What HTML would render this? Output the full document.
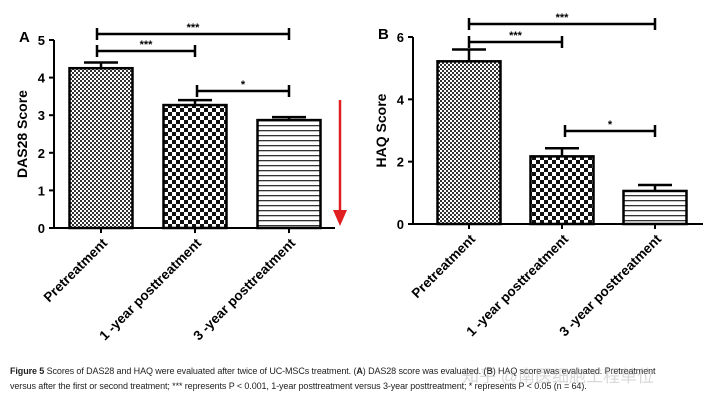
<!DOCTYPE html>
<html><head><meta charset="utf-8">
<style>
html,body{margin:0;padding:0;background:#fff;}
body{width:720px;height:403px;overflow:hidden;position:relative;font-family:"Liberation Sans",sans-serif;}
#cap{position:absolute;left:10px;top:364px;font-size:9px;line-height:15px;color:#222;width:705px;white-space:nowrap;letter-spacing:-0.1px;}
#wm{position:absolute;left:462px;top:362px;font-size:17px;color:rgba(170,170,170,0.45);font-family:"Liberation Sans","Noto Sans CJK SC",sans-serif;}
</style></head>
<body>
<svg id="chart" width="720" height="360" style="position:absolute;left:0;top:0" font-family="Liberation Sans, sans-serif">
<defs>
<pattern id="pFine" width="4" height="4" patternUnits="userSpaceOnUse"><rect width="4" height="4" fill="#fff"/><rect width="2" height="2" fill="#333"/><rect x="2" y="2" width="2" height="2" fill="#333"/></pattern>
<pattern id="pCheck" width="8" height="8" patternUnits="userSpaceOnUse"><rect width="8" height="8" fill="#fff"/><rect width="4" height="4" fill="#111"/><rect x="4" y="4" width="4" height="4" fill="#111"/></pattern>
<pattern id="pLines" width="6" height="5" patternUnits="userSpaceOnUse"><rect width="6" height="5" fill="#fff"/><rect y="0" width="6" height="1.3" fill="#333"/></pattern>
</defs>
<g id="panelA"></g>
<g id="panelB"></g>
<g>
<line x1="340" y1="100" x2="340" y2="212" stroke="#e02020" stroke-width="2.5"/>
<polygon points="333,210 347,210 340,226" fill="#e02020"/>
</g>
</svg>
<div id="cap"><b>Figure 5</b> Scores of DAS28 and HAQ were evaluated after twice of UC-MSCs treatment. (<b>A</b>) DAS28 score was evaluated. (<b>B</b>) HAQ score was evaluated. Pretreatment<br>versus after the first or second treatment; *** represents P &lt; 0.001, 1-year posttreatment versus 3-year posttreatment; * represents P &lt; 0.05 (n = 64).</div>
<div id="wm">知乎 @南医细胞工程单位</div>
<script>
const categories = ["Pretreatment","1 -year posttreatment","3 -year posttreatment"];
const dasValues = [4.25, 3.27, 2.87];
const dasErrors = [0.15, 0.13, 0.08];
const dasTicks = [0,1,2,3,4,5];
const haqValues = [5.22, 2.17, 1.06];
const haqErrors = [0.38, 0.26, 0.19];
const haqTicks = [0,2,4,6];
const fills = ["url(#pFine)","url(#pCheck)","url(#pLines)"];
const NS = "http://www.w3.org/2000/svg";
function mk(parent, tag, attrs, text){
  const e = document.createElementNS(NS, tag);
  for (const k in attrs) e.setAttribute(k, attrs[k]);
  if (text !== undefined) e.textContent = text;
  parent.appendChild(e); return e;
}
function drawPanel(g, cfg){
  const y = v => cfg.y0 - (v / cfg.max) * (cfg.y0 - cfg.yTop);
  const xc = i => cfg.x0 + cfg.first + i * cfg.step;
  const L = mk(g,"text",{x:cfg.x0-35,y:cfg.yTop+2,"font-size":15,"font-weight":"bold"},cfg.letter);
  
  
  const ya = mk(g,"line",{x1:cfg.x0,y1:cfg.yTop,x2:cfg.x0,y2:cfg.y0,stroke:"#000","stroke-width":2});
  
  
  const xa = mk(g,"line",{x1:cfg.x0,y1:cfg.y0,x2:cfg.xEnd,y2:cfg.y0,stroke:"#000","stroke-width":2});
  
  
  cfg.ticks.forEach(t=>{
    mk(g,"line",{x1:cfg.x0-5,y1:y(t),x2:cfg.x0,y2:y(t),stroke:"#000","stroke-width":2});
    const tl = mk(g,"text",{x:cfg.x0-9,y:y(t)+5,"font-size":13,"font-weight":"bold","text-anchor":"end"},t);
    
    
  });
  const mid = (cfg.y0+cfg.yTop)/2;
  const yt = mk(g,"text",{x:cfg.x0-27,y:mid,"font-size":14,"font-weight":"bold","text-anchor":"middle",transform:`rotate(-90 ${cfg.x0-27} ${mid})`},cfg.title);
  
  
  cfg.values.forEach((v,i)=>{
    const cx = xc(i), w = 63;
    const eb = mk(g,"path",{d:`M${cx} ${y(v)} V${y(v+cfg.errors[i])} M${cx-17} ${y(v+cfg.errors[i])} H${cx+17}`,stroke:"#000","stroke-width":2.5,fill:"none"});
    
    
    const b = mk(g,"rect",{x:cx-w/2,y:y(v),width:w,height:cfg.y0-y(v),fill:fills[i],stroke:"#000","stroke-width":2.5});
    
    
    mk(g,"line",{x1:cx,y1:cfg.y0,x2:cx,y2:cfg.y0+5,stroke:"#000","stroke-width":2});
    const tx = cx+7, ty = cfg.y0+16;
    const xl = mk(g,"text",{x:tx,y:ty,"font-size":13.5,"font-weight":"bold","text-anchor":"end",transform:`rotate(-45 ${tx} ${ty})`},categories[i]);
    
    
  });
  cfg.brackets.forEach(bk=>{
    const x1 = xc(bk[0]) + (bk[3]||0), x2 = xc(bk[1]);
    const p = mk(g,"path",{d:`M${x1} ${bk[2]-6} V${bk[2]+6} M${x1} ${bk[2]} H${x2} M${x2} ${bk[2]-6} V${bk[2]+6}`,stroke:"#000","stroke-width":2.5,fill:"none"});
    
    
    const s = mk(g,"text",{x:(x1+x2)/2,y:bk[2]-3,"font-size":11,"font-weight":"bold","text-anchor":"middle"},bk[4]);
    
    
  });
}
drawPanel(document.getElementById("panelA"),{letter:"A",title:"DAS28 Score",x0:54,xEnd:335,y0:228,yTop:40,max:5,first:47,step:94,
  values:dasValues,errors:dasErrors,ticks:dasTicks,
  brackets:[[0,2,34,-4,"***"],[0,1,51,-4,"***"],[1,2,91,2,"*"]]});
drawPanel(document.getElementById("panelB"),{letter:"B",title:"HAQ Score",x0:413,xEnd:703,y0:224,yTop:37,max:6,first:56,step:93,
  values:haqValues,errors:haqErrors,ticks:haqTicks,
  brackets:[[0,2,24,0,"***"],[0,1,42,0,"***"],[1,2,131,3,"*"]]});
</script>
</body></html>
